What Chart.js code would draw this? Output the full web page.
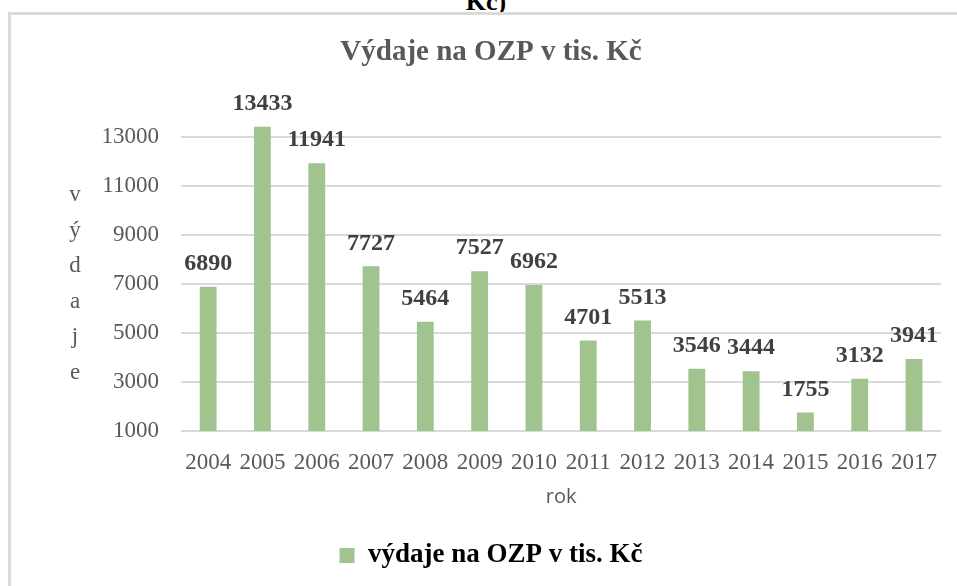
<!DOCTYPE html>
<html>
<head>
<meta charset="utf-8">
<script src="https://cdn.jsdelivr.net/npm/chart.js@4/dist/chart.umd.min.js"></script>
<style>
  html, body { margin: 0; padding: 0; overflow: hidden; background: #ffffff; width: 957px; height: 586px; }
  #heading { position: absolute; left: 0; width: 972px; top: -11px; text-align: center;
             font: bold 26px "Liberation Serif", "Times New Roman", serif; line-height: 26px; color: #000; }
  #frame { position: absolute; left: 8px; top: 12px; width: 1000px; height: 620px; border: 3px solid #dadada; box-sizing: border-box; }
  #c { position: absolute; left: 27px; top: 15px; }
</style>
</head>
<body>
<div id="heading">Kč)</div>
<div id="frame"></div>
<canvas id="c" width="928" height="571"></canvas>
<script>
const years = ['2004','2005','2006','2007','2008','2009','2010','2011','2012','2013','2014','2015','2016','2017'];
const spending = [6890, 13433, 11941, 7727, 5464, 7527, 6962, 4701, 5513, 3546, 3444, 1755, 3132, 3941];
const yTicks = [1000, 3000, 5000, 7000, 9000, 11000, 13000];
const seriesName = 'výdaje na OZP v tis. Kč';
const chartTitle = 'Výdaje na OZP v tis. Kč';
const yTitleLetters = ['v', 'ý', 'd', 'a', 'j', 'e'];
const xTitle = 'rok';

const serif = '"Liberation Serif", "Times New Roman", serif';

const labelPlugin = {
  id: 'barLabels',
  afterDatasetsDraw(chart) {
    const ctx = chart.ctx;
    const meta = chart.getDatasetMeta(0);
    ctx.save();
    ctx.font = 'bold 24px ' + serif;
    ctx.fillStyle = '#404040';
    ctx.textAlign = 'center';
    ctx.textBaseline = 'middle';
    meta.data.forEach((bar, i) => {
      ctx.fillText(String(spending[i]), bar.x, bar.y - 23);
    });
    ctx.restore();
  }
};

const yTitlePlugin = {
  id: 'yTitleStacked',
  afterDraw(chart) {
    const ctx = chart.ctx;
    ctx.save();
    ctx.font = '23px ' + serif;
    ctx.fillStyle = '#595959';
    ctx.textAlign = 'center';
    ctx.textBaseline = 'alphabetic';
    const mid = (chart.chartArea.top + chart.chartArea.bottom) / 2;
    const step = 35.6;
    const start = mid - 2.5 * step + 18;
    yTitleLetters.forEach((ch, i) => {
      ctx.fillText(ch, 48, start + i * step);
    });
    ctx.restore();
  }
};

new Chart(document.getElementById('c'), {
  type: 'bar',
  data: {
    labels: years,
    datasets: [{
      label: seriesName,
      data: spending,
      backgroundColor: '#a1c48f',
      borderWidth: 0,
      barPercentage: 0.31,
      categoryPercentage: 1.0
    }]
  },
  options: {
    responsive: false,
    animation: false,
    devicePixelRatio: 1,
    layout: { padding: { left: 0, right: 0, top: 0, bottom: 7 } },
    plugins: {
      title: {
        display: true,
        text: chartTitle,
        color: '#595959',
        font: { family: serif, size: 29, weight: 'bold' },
        padding: { top: 20, bottom: 43 }
      },
      legend: {
        display: true,
        position: 'bottom',
        labels: {
          color: '#000000',
          font: { family: serif, size: 27, weight: 'bold' },
          boxWidth: 15,
          boxHeight: 15,
          padding: 10
        }
      },
      tooltip: { enabled: false }
    },
    scales: {
      x: {
        grid: { display: false, drawTicks: false },
        border: { display: false },
        ticks: {
          color: '#595959',
          font: { family: serif, size: 23 },
          padding: 18,
          maxRotation: 0,
          autoSkip: false
        },
        title: {
          display: true,
          text: xTitle,
          color: '#595959',
          font: { family: '"Open Sans", "Liberation Sans", sans-serif', size: 20 },
          padding: { top: 0, bottom: 23 }
        },
        afterFit(scale) { scale.height = 101; }
      },
      y: {
        min: 1000,
        max: 14000,
        grid: { color: '#d9d9d9', lineWidth: 2, drawTicks: false },
        border: { display: false },
        ticks: {
          color: '#595959',
          font: { family: serif, size: 23 },
          padding: 22,
          callback: (v) => String(v)
        },
        afterBuildTicks(scale) { scale.ticks = yTicks.map(v => ({ value: v })); },
        afterFit(scale) { scale.width = 154; }
      }
    }
  },
  plugins: [labelPlugin, yTitlePlugin]
});
</script>
</body>
</html>
